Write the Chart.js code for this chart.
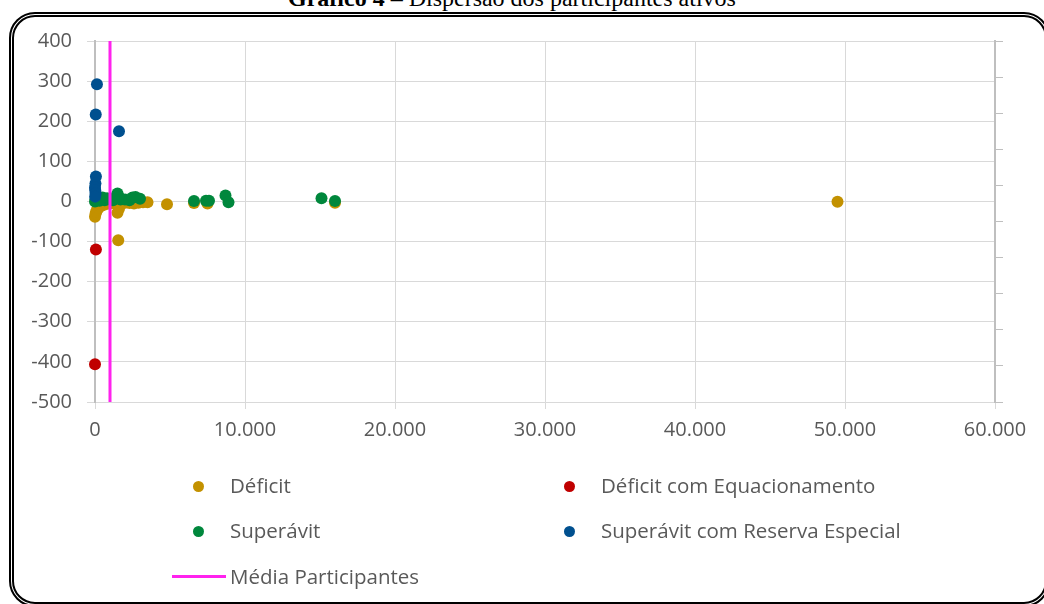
<!DOCTYPE html>
<html lang="pt-BR">
<head>
<meta charset="utf-8">
<script src="https://cdn.jsdelivr.net/npm/chart.js@4.4.1/dist/chart.umd.min.js"></script>
<style>
html, body { margin: 0; padding: 0; background: #fff; overflow: hidden; }
#page { position: relative; width: 1044px; height: 604px; overflow: hidden; font-family: "Open Sans", sans-serif; }
#frame { position: absolute; left: 9px; top: 12px; width: 1031px; height: 585px; border: 5px double #000; border-radius: 26px; }
#title { position: absolute; top: -14px; left: 288px; white-space: nowrap; font-family: "Liberation Serif", "Times New Roman", serif; font-size: 24px; line-height: 24px; color: #000; }
#chart { position: absolute; left: 0; top: 0; }
#legend { position: absolute; left: 0; top: 0; width: 1044px; height: 604px; pointer-events: none; color: #595959; font-size: 20.5px; }
.item { position: absolute; white-space: nowrap; line-height: 24px; }
.dot { position: absolute; width: 11px; height: 11px; border-radius: 50%; }
.bar { position: absolute; height: 3px; }
</style>
</head>
<body>
<div id="page">
  <div id="title"><b>Gráfico 4</b> – Dispersão dos participantes ativos</div>
  <canvas id="chart" width="1044" height="604"></canvas>
  <div id="legend"></div>
  <div id="frame"></div>
</div>
<script>
/* --------- dados --------- */
const seriesNames  = ['Déficit', 'Déficit com Equacionamento', 'Superávit', 'Superávit com Reserva Especial'];
const seriesColors = ['#C39100', '#C00000', '#00873C', '#00508F'];
const mediaLabel   = 'Média Participantes';
const mediaColor   = '#FF22EE';
const mediaParticipantes = 1000;

const deficitX = [0, 40, 90, 150, 250, 350, 450, 600, 800, 1000, 1200, 1500, 1550, 1600, 1800, 2000, 2300, 2600, 2900, 3200, 3500, 4800, 6600, 7500, 16000, 49500];
const deficitY = [-38, -30, -25, -20, -16, -12, -10, -8, -6, -5, -4, -28, -97, -18, -5, -3, -4, -5, -3, -2, -2, -7, -4, -5, -3, -1];

const deficitEqX = [60, 0];
const deficitEqY = [-120, -406];

const superavitX = [0, 40, 100, 150, 200, 300, 400, 500, 650, 800, 1000, 1200, 1400, 1500, 1550, 1700, 2000, 2300, 2500, 2700, 3000, 6600, 7400, 7600, 8700, 8900, 15100, 16000];
const superavitY = [0, 5, 10, 3, 8, 2, 6, 10, 3, 8, 5, 3, 12, 20, 14, 5, 5, 3, 10, 11, 7, 1, 2, 2, 15, -2, 8, 1];

const reservaX = [130, 50, 1600, 60, 30, 0, 20, 40, 10];
const reservaY = [292, 217, 175, 62, 45, 35, 27, 20, 12];

const xMin = 0, xMax = 60000, xStep = 10000;
const yMin = -500, yMax = 400, yStep = 100;

/* --------- helpers --------- */
const toPoints = (xs, ys) => xs.map((x, i) => ({ x, y: ys[i] }));
const fmtThousands = v => String(v).replace(/\B(?=(\d{3})+(?!\d))/g, '.');

const tickFont = { family: 'Open Sans', size: 20 };
const allX = [deficitX, deficitEqX, superavitX, reservaX];
const allY = [deficitY, deficitEqY, superavitY, reservaY];

const datasets = seriesNames.map((name, i) => ({
  label: name,
  data: toPoints(allX[i], allY[i]),
  backgroundColor: seriesColors[i],
  borderColor: seriesColors[i],
  pointRadius: 6,
  pointBorderWidth: 0,
  clip: false,
  order: 5 - i
}));
datasets.push({
  label: mediaLabel,
  data: [{ x: mediaParticipantes, y: yMin }, { x: mediaParticipantes, y: yMax }],
  showLine: true,
  borderColor: mediaColor,
  backgroundColor: mediaColor,
  borderWidth: 3,
  pointRadius: 0,
  order: 0
});

new Chart(document.getElementById('chart').getContext('2d'), {
  type: 'scatter',
  data: { datasets },
  options: {
    responsive: false,
    animation: false,
    layout: { padding: { top: 41, bottom: 162, left: 0, right: 0 } },
    plugins: { legend: { display: false }, tooltip: { enabled: false } },
    scales: {
      x: {
        type: 'linear', min: xMin, max: xMax,
        ticks: { stepSize: xStep, color: '#595959', font: tickFont, padding: 9, callback: v => fmtThousands(v) },
        grid: { color: '#d9d9d9', tickLength: 7 },
        border: { color: '#d9d9d9' },
        afterFit: s => { s.height = 40; }
      },
      y: {
        min: yMin, max: yMax,
        ticks: { stepSize: yStep, color: '#595959', font: tickFont, padding: 15 },
        grid: { color: '#d9d9d9', tickLength: 8 },
        border: { color: '#bfbfbf', width: 2 },
        afterFit: s => { s.width = 95; }
      },
      y2: {
        position: 'right', min: 0, max: 10,
        ticks: { display: false, stepSize: 1 },
        grid: { drawOnChartArea: false, tickLength: 8, color: '#bfbfbf' },
        border: { color: '#bfbfbf', width: 2 },
        afterFit: s => { s.width = 49; }
      }
    }
  }
});

/* --------- legenda --------- */
function addLegend() {
  const box = document.getElementById('legend');
  const cols = [198, 569];
  const rows = [486, 531];
  seriesNames.forEach((name, i) => {
    const cx = cols[i % 2], cy = rows[Math.floor(i / 2)];
    box.innerHTML += `<div class="dot" style="left:${cx - 5.5}px;top:${cy - 5.5}px;background:${seriesColors[i]}"></div>` +
      `<div class="item" style="left:${cx + 32}px;top:${cy - 13}px">${name}</div>`;
  });
  box.innerHTML += `<div class="bar" style="left:172px;top:575px;width:54px;background:${mediaColor}"></div>` +
    `<div class="item" style="left:230px;top:564px">${mediaLabel}</div>`;
}
addLegend();
</script>
</body>
</html>
